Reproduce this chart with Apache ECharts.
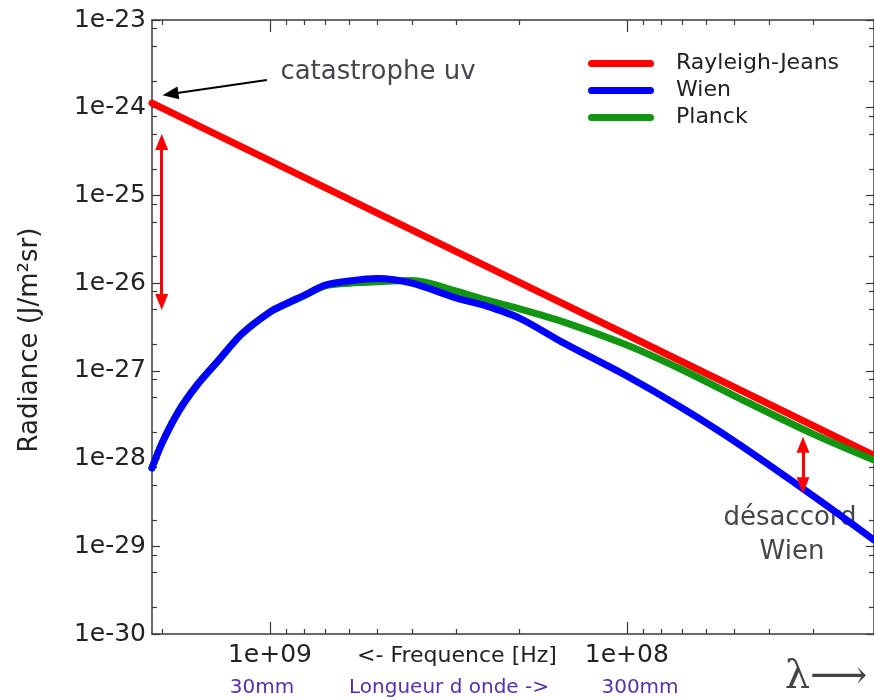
<!DOCTYPE html>
<html>
<head>
<meta charset="utf-8">
<script src="https://cdn.jsdelivr.net/npm/echarts@6/dist/echarts.min.js"></script>
<style>
html,body{margin:0;padding:0;background:#fff}
#chart{width:874px;height:700px}
</style>
</head>
<body>
<div id="chart"></div>
<script>
// frequencies (Hz) where the Wien and Planck curves were read
var freq = [2.14e9, 2e9, 1.8e9, 1.6e9, 1.4e9, 1.2e9, 1e9, 9e8, 8e8, 7e8, 6e8, 5e8, 4e8, 3e8, 2.5e8, 2e8, 1.5e8, 1e8, 7e7, 5e7, 3e7, 2.03e7]
var wien = [7.8e-29, 1.54e-28, 3.48e-28, 6.9e-28, 1.29e-27, 2.63e-27, 4.68e-27, 5.85e-27, 7.3e-27, 9.5e-27, 1.06e-26, 1.13e-26, 1.0e-26, 6.76e-27, 5.56e-27, 4.0e-27, 2.07e-27, 8.73e-28, 3.77e-28, 1.58e-28, 3.73e-29, 1.18e-29]
var planck = [7.8e-29, 1.54e-28, 3.52e-28, 6.9e-28, 1.28e-27, 2.63e-27, 4.68e-27, 5.78e-27, 7.2e-27, 9.3e-27, 1.0e-26, 1.04e-26, 1.07e-26, 8.1e-27, 6.47e-27, 5.1e-27, 3.6e-27, 1.97e-27, 1.03e-27, 5.2e-28, 1.9e-28, 9.6e-29]
// Rayleigh-Jeans is a straight line, a few readings are enough
var rjFreq = [2.14e9, 1e9, 5e8, 2e8, 1e8, 5e7, 2.03e7]
var rj = [1.13e-24, 2.49e-25, 6.3e-26, 1.02e-26, 2.58e-27, 6.52e-28, 1.09e-28]

// axis range and ticks
var freqLeft = 2.14e9, freqRight = 2.03e7
var xLabelFreq = [1e9, 1e8]
var xMinorFreq = [2e9, 9e8, 8e8, 7e8, 6e8, 5e8, 4e8, 3e8, 2e8, 9e7, 8e7, 7e7, 6e7, 5e7, 4e7, 3e7]
var yDecades = [-30, -29, -28, -27, -26, -25, -24, -23]
var yMinorMant = [2, 5, 8]

// annotation arrows [freq, radiance] from -> to
var arrowUv = [[1.02e9, 2.07e-24], [1.9e9, 1.43e-24]]
var arrowLeft = [[2.01e9, 4.06e-25], [2.01e9, 6.09e-27]]
var arrowRight = [[3.21e7, 1.44e-28], [3.21e7, 4.95e-29]]

var lg = Math.log10
var FONT = 'DejaVu Sans'
var axisColor = '#3a3a3a'

function pts(xs, ys) {
  return xs.map(function (x, i) { return [lg(x), lg(ys[i])] })
}
function expLabel(v) {
  var n = Math.round(v)
  var s = Math.abs(n) < 10 ? '0' + Math.abs(n) : '' + Math.abs(n)
  return '1e' + (n < 0 ? '-' + Math.abs(n) : '+' + s)
}

var yMinor = []
yDecades.slice(0, -1).forEach(function (d) {
  yMinorMant.forEach(function (m) { yMinor.push(d + lg(m)) })
})

function xAx(pos, ticks, len, labels) {
  return {
    type: 'value', position: pos, inverse: true,
    min: lg(freqRight), max: lg(freqLeft),
    axisLine: { show: len > 6, onZero: false, lineStyle: { color: axisColor, width: 1.5 } },
    splitLine: { show: false },
    axisTick: { show: true, inside: true, length: len, customValues: ticks, lineStyle: { color: axisColor, width: 1.2 } },
    axisLabel: labels ? {
      show: true, customValues: xLabelFreq.map(lg), formatter: expLabel,
      fontFamily: FONT, fontSize: 25, color: '#222', margin: 9
    } : { show: false }
  }
}
function yAx(pos, ticks, len, labels) {
  return {
    type: 'value', position: pos, min: -30, max: -23,
    axisLine: { show: len > 6, onZero: false, lineStyle: { color: axisColor, width: 1.5 } },
    splitLine: { show: false },
    axisTick: { show: true, inside: true, length: len, customValues: ticks, lineStyle: { color: axisColor, width: 1.2 } },
    axisLabel: labels ? {
      show: true, customValues: yDecades, formatter: expLabel,
      fontFamily: FONT, fontSize: 25, color: '#222', margin: 6
    } : { show: false }
  }
}

var xMajor = xLabelFreq.map(lg), xMinor = xMinorFreq.map(lg)
var legendIcon = 'path://M3.5,0H62.5A3.5,3.5,0,0,1,62.5,7H3.5A3.5,3.5,0,0,1,3.5,0Z'

function arrowPair(a, color, width, s0, s1) {
  return [
    { coord: [lg(a[0][0]), lg(a[0][1])], symbol: s0 },
    { coord: [lg(a[1][0]), lg(a[1][1])], symbol: s1, lineStyle: { color: color, width: width } }
  ]
}
function note(text, x, y, size, color, extra) {
  var el = { type: 'text', x: x, y: y, style: { text: text, font: size + 'px "DejaVu Sans"', fill: color, align: 'center', verticalAlign: 'middle' } }
  for (var k in extra || {}) el[k] = extra[k]
  return el
}

var chart = echarts.init(document.getElementById('chart'))
chart.setOption({
  animation: false,
  grid: { left: 152, right: 0, top: 20, bottom: 66, outerBoundsMode: 'none', containLabel: false },
  xAxis: [
    xAx('bottom', xMajor, 12, true),
    xAx('bottom', xMinor, 5, false),
    xAx('top', xMajor, 12, false),
    xAx('top', xMinor, 5, false)
  ],
  yAxis: [
    yAx('left', yDecades, 8, true),
    yAx('left', yMinor, 5, false),
    yAx('right', yDecades, 8, false),
    yAx('right', yMinor, 5, false)
  ],
  legend: {
    data: ['Rayleigh-Jeans', 'Wien', 'Planck'],
    orient: 'vertical', left: 588, top: 50, padding: 0, itemGap: 0,
    icon: legendIcon, itemWidth: 66, itemHeight: 7,
    textStyle: { fontFamily: FONT, fontSize: 22, color: '#222', lineHeight: 27, padding: [0, 0, 0, 17] },
    selectedMode: false
  },
  series: [
    {
      name: 'Rayleigh-Jeans', type: 'line', data: pts(rjFreq, rj),
      showSymbol: false, symbol: 'none', color: '#ff0000',
      lineStyle: { width: 7, color: '#ff0000', cap: 'round', join: 'round' },
      markLine: {
        silent: true, animation: false, label: { show: false },
        symbolSize: [13, 16],
        lineStyle: { type: 'solid', color: '#ff0000', width: 3 },
        emphasis: { disabled: true },
        data: [
          arrowPair(arrowLeft, '#ff0000', 3, 'triangle', 'triangle'),
          arrowPair(arrowRight, '#ff0000', 3, 'triangle', 'triangle'),
          arrowPair(arrowUv, '#000000', 2, 'none', 'triangle')
        ]
      }
    },
    {
      name: 'Planck', type: 'line', data: pts(freq, planck), smooth: 0.3,
      showSymbol: false, symbol: 'none', color: '#129612',
      lineStyle: { width: 7, color: '#129612', cap: 'round', join: 'round' }
    },
    {
      name: 'Wien', type: 'line', data: pts(freq, wien), smooth: 0.3,
      showSymbol: false, symbol: 'none', color: '#0000ff',
      lineStyle: { width: 7, color: '#0000ff', cap: 'round', join: 'round' }
    }
  ],
  graphic: [
    note('Radiance (J/m²sr)', 30, 340, 26, '#222', { rotation: Math.PI / 2 }),
    note('catastrophe uv', 378, 72, 26, '#46464e'),
    note('désaccord', 790, 518, 26, '#46464e'),
    note('Wien', 792, 552, 26, '#46464e'),
    note('<- Frequence [Hz]', 457, 656, 22, '#222'),
    note('30mm', 262, 688, 20, '#5530b0'),
    note('Longueur d onde ->', 449, 688, 20, '#5530b0'),
    note('300mm', 640, 688, 20, '#5530b0'),
    { type: 'text', x: 826, y: 678, style: { text: 'λ⟶', font: '40px "DejaVu Serif"', fill: '#444', align: 'center', verticalAlign: 'middle' } }
  ]
})
</script>
</body>
</html>
